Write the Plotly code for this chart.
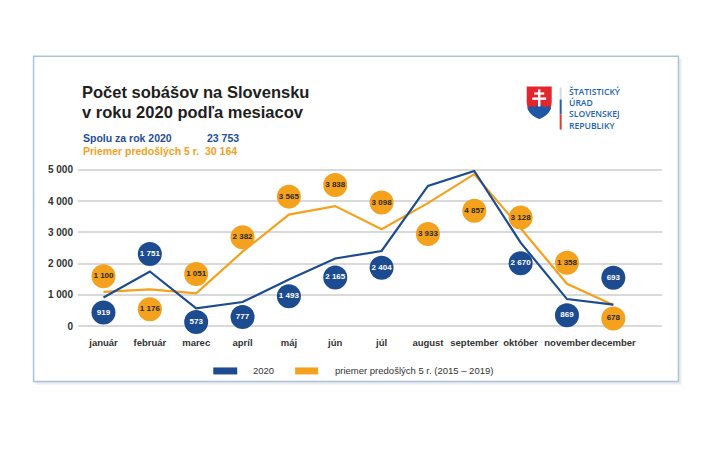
import plotly.graph_objects as go

# ---------------- data ----------------
months = ["január", "február", "marec", "apríl", "máj", "jún", "júl",
          "august", "september", "október", "november", "december"]
values_2020 = [919, 1751, 573, 777, 1493, 2165, 2404, 4480, 4959, 2670, 869, 693]
values_avg = [1100, 1176, 1051, 2382, 3565, 3838, 3098, 3933, 4857, 3128, 1358, 678]
name_2020 = "2020"
name_avg = "priemer predošlých 5 r. (2015 – 2019)"
total_2020 = 23753
total_avg = 30164
title_lines = ["Počet sobášov na Slovensku", "v roku 2020 podľa mesiacov"]
y_ticks = [0, 1000, 2000, 3000, 4000, 5000]
logo_lines = ["ŠTATISTICKÝ", "ÚRAD", "SLOVENSKEJ", "REPUBLIKY"]

# label bubble placement (offsets from the point, in axis units)
label_dy_2020 = [-480, 557, -433, -477, -533, -605, -534, 790, 531, -660, -519, 857]
label_dy_avg = [500, -631, 619, 458, 575, 672, 852, -983, -1167, 342, 672, -428]

# ---------------- styling ----------------
BLUE = "#1d4b8f"
ORANGE = "#f4a11d"
FONT = "Liberation Sans, Arial, sans-serif"
TXT = "#333333"

W, H = 720, 450
L, R = 77.5, 57.5
T, B = 165.3, 119.3
PW = W - L - R
PH = H - T - B


def px(x):
    return (x - L) / PW


def py(y):
    return (H - B - y) / PH


def fmt(v):
    return f"{v:,}".replace(",", " ")


fig = go.Figure()

fig.add_trace(go.Scatter(x=months, y=values_avg, mode="lines",
                         line=dict(color=ORANGE, width=2.2), hoverinfo="skip",
                         showlegend=False))
fig.add_trace(go.Scatter(x=months, y=values_2020, mode="lines",
                         line=dict(color=BLUE, width=2.2), hoverinfo="skip",
                         showlegend=False))

fig.add_trace(go.Scatter(
    x=months, y=[v + d for v, d in zip(values_avg, label_dy_avg)],
    mode="markers+text", text=[fmt(v) for v in values_avg],
    textposition="middle center",
    textfont=dict(family=FONT, size=8, color="#2a2a2a", weight="bold"),
    marker=dict(size=24, color=ORANGE, line=dict(width=0)),
    cliponaxis=False, showlegend=False, name=name_avg))
fig.add_trace(go.Scatter(
    x=months, y=[v + d for v, d in zip(values_2020, label_dy_2020)],
    mode="markers+text", text=[fmt(v) for v in values_2020],
    textposition="middle center",
    textfont=dict(family=FONT, size=8, color="white", weight="bold"),
    marker=dict(size=24, color=BLUE, line=dict(width=0)),
    cliponaxis=False, showlegend=False, name=name_2020))

shapes = []
# card shadow + card
shapes.append(dict(type="rect", xref="paper", yref="paper", layer="below",
                   x0=px(35), x1=px(682), y0=py(60), y1=py(384),
                   fillcolor="#ececec", line=dict(width=0)))
shapes.append(dict(type="rect", xref="paper", yref="paper", layer="below",
                   x0=px(33), x1=px(679), y0=py(57), y1=py(381),
                   fillcolor="white", line=dict(color="#a9c3df", width=1.5)))


def qpath(cmds):
    out = []
    for c in cmds:
        if c[0] in "ML":
            out.append(f"{c[0]} {px(c[1]):.5f},{py(c[2]):.5f}")
        elif c[0] == "Q":
            out.append(f"Q {px(c[1]):.5f},{py(c[2]):.5f} {px(c[3]):.5f},{py(c[4]):.5f}")
    return " ".join(out) + " Z"


# logo shield
shapes.append(dict(type="path", xref="paper", yref="paper",
                   path=qpath([("M", 527, 87), ("L", 552, 87), ("L", 552, 103),
                               ("Q", 552, 114, 539.5, 119.5), ("Q", 527, 114, 527, 103)]),
                   fillcolor="#e3262d", line=dict(width=0)))
shapes.append(dict(type="path", xref="paper", yref="paper",
                   path=qpath([("M", 527.6, 109), ("Q", 531, 104.5, 534.5, 108),
                               ("Q", 539.5, 102, 544.5, 108), ("Q", 548, 104.5, 551.4, 109),
                               ("Q", 548.5, 116, 539.5, 119.5), ("Q", 530.5, 116, 527.6, 109)]),
                   fillcolor="#1f57a6", line=dict(width=0)))
for (x0, x1, y0, y1) in [(538.3, 540.7, 90, 107), (534.5, 544.5, 93, 95.2), (532.5, 546.5, 98, 100.4)]:
    shapes.append(dict(type="rect", xref="paper", yref="paper",
                       x0=px(x0), x1=px(x1), y0=py(y1), y1=py(y0),
                       fillcolor="white", line=dict(width=0)))
# logo divider
for (y0, y1, c) in [(88, 100, "#d3dbe6"), (100, 115, "#2a5fa8"), (115, 130, "#e03a3a")]:
    shapes.append(dict(type="line", xref="paper", yref="paper",
                       x0=px(561), x1=px(561), y0=py(y0), y1=py(y1),
                       line=dict(color=c, width=2)))

# legend swatches
shapes.append(dict(type="rect", xref="paper", yref="paper",
                   x0=px(213), x1=px(237), y0=py(374), y1=py(367),
                   fillcolor=BLUE, line=dict(width=0)))
shapes.append(dict(type="rect", xref="paper", yref="paper",
                   x0=px(295), x1=px(318), y0=py(374), y1=py(367),
                   fillcolor=ORANGE, line=dict(width=0)))

ann = []


def text(x, y, s, size, color, bold=False, xanchor="left", family=FONT, weight=None):
    ann.append(dict(xref="paper", yref="paper", x=px(x), y=py(y), text=s,
                    showarrow=False, xanchor=xanchor, yanchor="middle", align="left",
                    font=dict(family=family, size=size, color=color,
                              weight=weight if weight else ("bold" if bold else "normal"))))


text(80, 93, title_lines[0], 16.5, "#1e1e1e", bold=True)
text(80, 112, title_lines[1], 16.5, "#1e1e1e", bold=True)
text(81, 138.5, "Spolu za rok 2020", 10.5, "#1f4e96", bold=True)
text(81, 151, "Priemer predošlých 5 r.", 10.5, ORANGE, bold=True)
text(241, 138.5, fmt(total_2020), 10.5, "#1f4e96", bold=True, xanchor="right")
text(239, 151, fmt(total_avg), 10.5, ORANGE, bold=True, xanchor="right")
text(567.5, 109.5, "<br>".join(logo_lines), 8.6, "#2164b0",
     family="Open Sans, sans-serif", weight=600)
text(251, 370.5, name_2020, 9.5, TXT)
text(333, 370.5, name_avg, 9.5, TXT)

fig.update_layout(
    width=W, height=H,
    margin=dict(l=L, r=R, t=T, b=B, autoexpand=False),
    paper_bgcolor="white", plot_bgcolor="rgba(0,0,0,0)",
    separators=", ",
    shapes=shapes, annotations=ann,
    xaxis=dict(type="category", range=[-0.55, 12.05], showgrid=False,
               zeroline=False, showline=False, tickangle=0,
               ticks="outside", ticklen=3, tickcolor="rgba(0,0,0,0)",
               tickfont=dict(family=FONT, size=9.5, color=TXT, weight="bold")),
    yaxis=dict(range=[-150, 5150], tickvals=y_ticks, tickformat=",d",
               showgrid=True, gridcolor="#d9d9d9", gridwidth=2,
               zeroline=False, showline=False,
               ticks="outside", ticklen=2, tickcolor="rgba(0,0,0,0)",
               tickfont=dict(family=FONT, size=10, color=TXT, weight="bold")),
)

fig.write_html("out.html")
